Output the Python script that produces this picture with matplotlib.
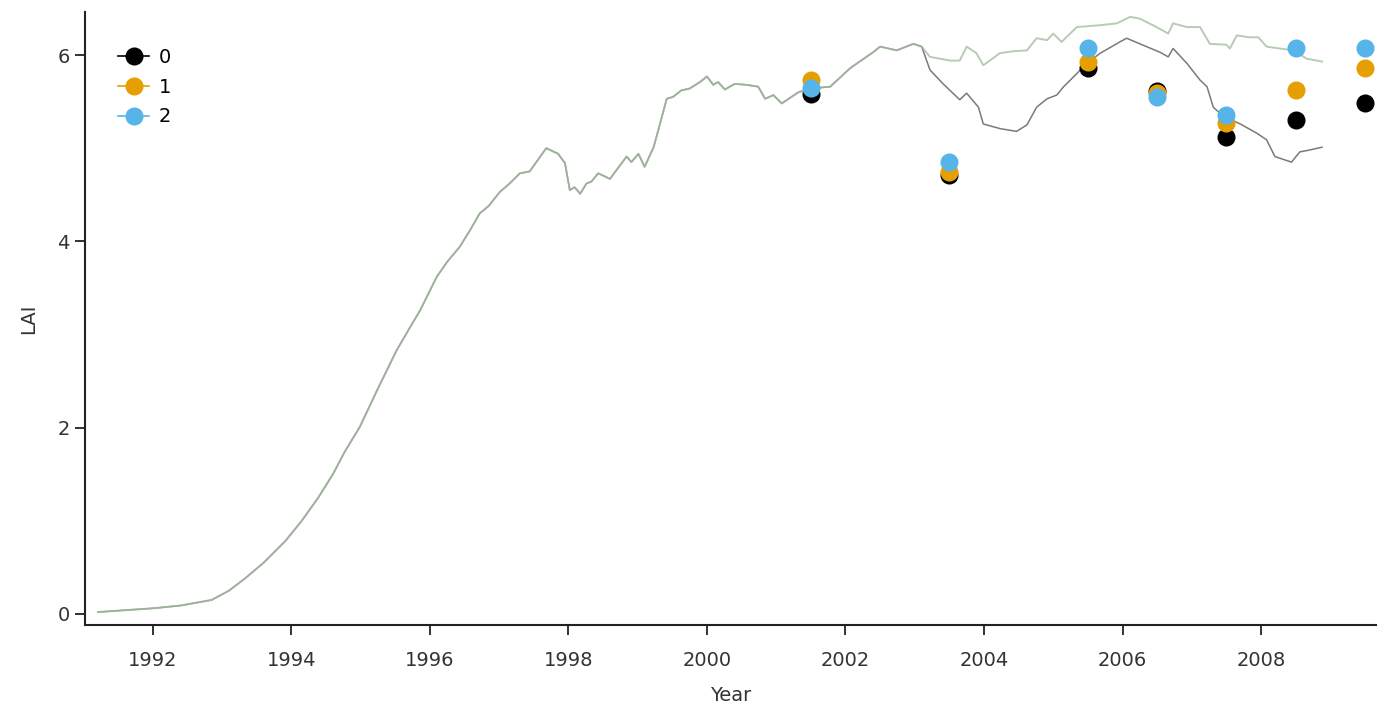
import numpy as np
import matplotlib
matplotlib.use("Agg")
import matplotlib.pyplot as plt
from matplotlib.lines import Line2D

# LAI series shared by both runs up to early 2003
base_year = [1991.21, 1991.6, 1992.0, 1992.4, 1992.85, 1993.1, 1993.33, 1993.6, 1993.91,
             1994.15, 1994.39, 1994.6, 1994.77, 1994.99, 1995.25, 1995.52, 1995.7, 1995.86,
             1996.10, 1996.25, 1996.43, 1996.58, 1996.72, 1996.85, 1997.01, 1997.15, 1997.30,
             1997.44, 1997.68, 1997.85, 1997.95, 1998.02, 1998.09, 1998.17, 1998.26, 1998.33,
             1998.43, 1998.60, 1998.84, 1998.91, 1999.01, 1999.10, 1999.23, 1999.42, 1999.51,
             1999.63, 1999.75, 1999.90, 2000.00, 2000.09, 2000.16, 2000.26, 2000.40, 2000.57,
             2000.74, 2000.84, 2000.96, 2001.08, 2001.32, 2001.49, 2001.78, 2002.07, 2002.40,
             2002.50, 2002.74, 2002.98, 2003.10]
base_lai = [0.02, 0.04, 0.06, 0.09, 0.15, 0.25, 0.38, 0.55, 0.78,
            1.00, 1.25, 1.50, 1.74, 2.01, 2.42, 2.83, 3.06, 3.26,
            3.62, 3.78, 3.94, 4.12, 4.30, 4.38, 4.53, 4.62, 4.73,
            4.75, 5.00, 4.94, 4.84, 4.55, 4.58, 4.51, 4.62, 4.64,
            4.73, 4.67, 4.91, 4.85, 4.94, 4.80, 5.01, 5.53, 5.55,
            5.62, 5.64, 5.71, 5.77, 5.68, 5.71, 5.63, 5.69, 5.68,
            5.66, 5.53, 5.57, 5.48, 5.60, 5.64, 5.66, 5.86, 6.03,
            6.09, 6.05, 6.12, 6.09]

# run without the disturbance (upper curve)
upper_year = [2003.22, 2003.51, 2003.65, 2003.75, 2003.89, 2003.99, 2004.23, 2004.42, 2004.62,
              2004.76, 2004.91, 2005.00, 2005.12, 2005.34, 2005.68, 2005.92, 2006.11, 2006.25,
              2006.49, 2006.66, 2006.73, 2006.93, 2007.12, 2007.26, 2007.50, 2007.55, 2007.65,
              2007.84, 2007.96, 2008.08, 2008.27, 2008.47, 2008.66, 2008.88]
upper_lai = [5.98, 5.94, 5.94, 6.09, 6.02, 5.89, 6.02, 6.04, 6.05,
             6.18, 6.16, 6.23, 6.14, 6.30, 6.32, 6.34, 6.41, 6.39,
             6.30, 6.23, 6.34, 6.30, 6.30, 6.12, 6.11, 6.07, 6.21,
             6.19, 6.19, 6.09, 6.07, 6.05, 5.96, 5.93]

# run with the disturbance (lower curve)
lower_year = [2003.22, 2003.41, 2003.65, 2003.75, 2003.92, 2003.99, 2004.23, 2004.47, 2004.62,
              2004.76, 2004.91, 2005.05, 2005.15, 2005.34, 2005.48, 2005.68, 2005.96, 2006.06,
              2006.25, 2006.54, 2006.66, 2006.73, 2006.93, 2007.12, 2007.22, 2007.31, 2007.46,
              2007.70, 2007.94, 2008.08, 2008.20, 2008.44, 2008.56, 2008.70, 2008.88]
lower_lai = [5.84, 5.69, 5.52, 5.59, 5.44, 5.26, 5.21, 5.18, 5.25,
             5.44, 5.53, 5.57, 5.66, 5.80, 5.91, 6.02, 6.14, 6.18,
             6.12, 6.03, 5.98, 6.07, 5.91, 5.73, 5.66, 5.44, 5.34,
             5.26, 5.16, 5.09, 4.91, 4.85, 4.96, 4.98, 5.01]

# field observations, one value per plot group
obs_year = [2001.5, 2003.5, 2005.5, 2006.5, 2007.5, 2008.5, 2009.5]
obs_0 = [5.58, 4.71, 5.86, 5.61, 5.12, 5.30, 5.49]
obs_1 = [5.73, 4.74, 5.93, 5.59, 5.27, 5.62, 5.86]
obs_2 = [5.65, 4.85, 6.08, 5.55, 5.36, 6.07, 6.08]
group_labels = ["0", "1", "2"]
group_colors = ["#000000", "#E69F00", "#56B4E9"]

plt.rcParams["font.family"] = ["DejaVu Sans"]
fig = plt.figure(figsize=(13.86, 7.15), dpi=100)
ax = fig.add_axes([0.0613, 0.126, 0.9315, 0.857])

yr_lower = base_year + lower_year
yr_upper = base_year + upper_year
ax.plot(yr_lower, base_lai + lower_lai, color="#7a7a7a", lw=1.1, zorder=2)
ax.plot(yr_upper, base_lai + upper_lai, color="#a6bea2", lw=1.4, alpha=0.8, zorder=3)

for vals, col in zip([obs_0, obs_1, obs_2], group_colors):
    ax.plot(obs_year, vals, "o", color=col, ms=13, mec="none", zorder=4)

handles = [Line2D([0], [0], color=c, lw=1.2, marker="o", ms=13, mec="none") for c in group_colors]
leg = ax.legend(handles, group_labels, loc="upper left", frameon=False, fontsize=14,
                handlelength=1.6, handletextpad=0.5, labelspacing=0.55,
                bbox_to_anchor=(0.012, 0.97))

ax.set_xlim(1991.02, 2009.66)
ax.set_ylim(-0.118, 6.46)
ax.set_xticks(np.arange(1992, 2009, 2))
ax.set_yticks([0, 2, 4, 6])
ax.set_xlabel("Year", fontsize=14, color="#333333", labelpad=11)
ax.set_ylabel("LAI", fontsize=14, color="#333333", labelpad=14)

for side in ["top", "right"]:
    ax.spines[side].set_visible(False)
for side in ["left", "bottom"]:
    ax.spines[side].set_color("#222222")
    ax.spines[side].set_linewidth(1.5)
ax.tick_params(axis="x", length=7, width=1.3, color="#222222", labelsize=14, labelcolor="#333333", pad=12)
ax.tick_params(axis="y", length=7, width=1.3, color="#222222", labelsize=14, labelcolor="#333333", pad=4)

fig.savefig("out.png", dpi=100)
